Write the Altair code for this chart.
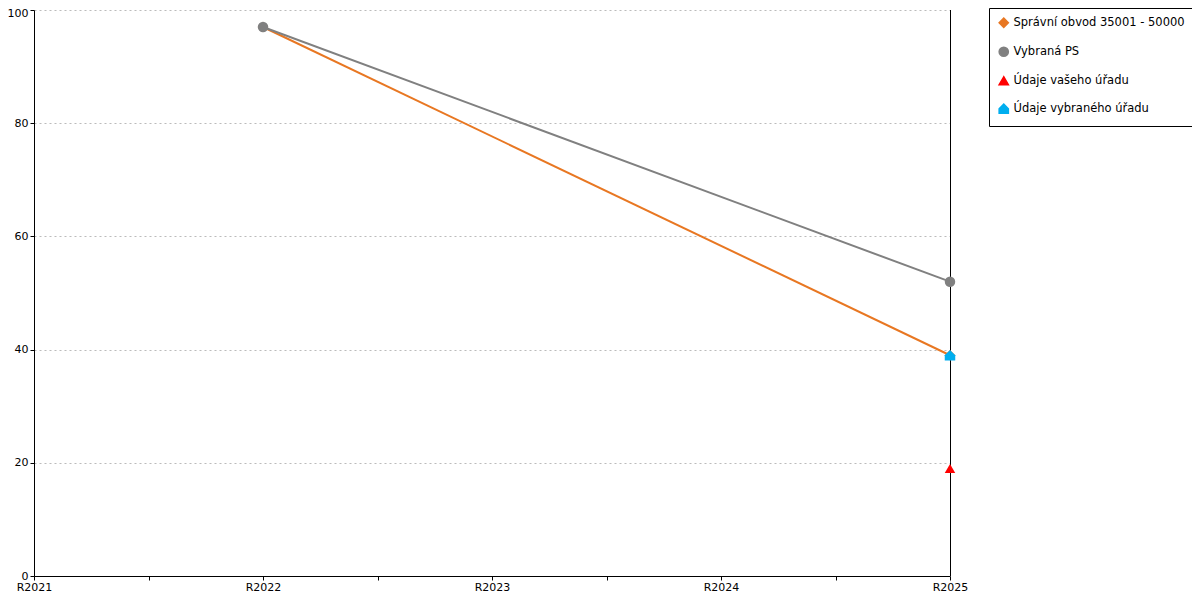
import altair as alt
import pandas as pd

categories = ["R2021", "R2022", "R2023", "R2024", "R2025"]
series_names = ["Správní obvod 35001 - 50000", "Vybraná PS", "Údaje vašeho úřadu", "Údaje vybraného úřadu"]
series_colors = ["#e87722", "#808080", "#ff0000", "#00aeef"]

obvod_x = ["R2022", "R2025"]
obvod_y = [97, 39]
ps_x = ["R2022", "R2025"]
ps_y = [97, 52]
vas_x = ["R2025"]
vas_y = [19]
vyb_x = ["R2025"]
vyb_y = [39]

rows = []
for name, xs, ys in [
    (series_names[0], obvod_x, obvod_y),
    (series_names[1], ps_x, ps_y),
    (series_names[2], vas_x, vas_y),
    (series_names[3], vyb_x, vyb_y),
]:
    for cx, vy in zip(xs, ys):
        rows.append({"series": name, "xi": categories.index(cx), "value": vy,
                     "order": series_names.index(name)})
df = pd.DataFrame(rows)

house = "M-1,1L-1,0L0,-1L1,0L1,1Z"
shapes = ["diamond", "circle", "triangle-up", house]

lab_arr = "[" + ",".join("'" + c + "'" for c in categories) + "]"
label_expr = f"datum.value % 1 == 0 ? {lab_arr}[datum.value] : ''"
tick_vals = [i * 0.5 for i in range(2 * (len(categories) - 1) + 1)]

H = 566

x_enc = alt.X("xi:Q", scale=alt.Scale(domain=[0, len(categories) - 1], nice=False, zero=False),
              axis=alt.Axis(values=tick_vals, labelExpr=label_expr, title=None, grid=False,
                            labelFlush=False, labelOverlap=False, labelPadding=1))
y_enc = alt.Y("value:Q", scale=alt.Scale(domain=[0, 100], nice=False),
              axis=alt.Axis(values=[0, 20, 40, 60, 80, 100], title=None, grid=True,
                            gridDash=[2, 3], gridColor="#bbbbbb",
                            labelOffset={"condition": {"test": "datum.value == 100", "value": 3},
                                         "value": 0}))

legend = alt.Legend(title=None, orient="none", legendX=955, legendY=-2,
                    strokeColor="black", fillColor="white", padding=9,
                    rowPadding=13, labelFontSize=11.5, labelFont="DejaVu Sans",
                    labelColor="black", symbolSize=85, labelLimit=300,
                    symbolOpacity=1, labelOffset=4)
color_scale = alt.Scale(domain=series_names, range=series_colors)
shape_scale = alt.Scale(domain=series_names, range=shapes)

lines = alt.Chart(df[df["series"].isin(series_names[:2])]).mark_line(strokeWidth=2).encode(
    x=x_enc, y=y_enc,
    color=alt.Color("series:N", scale=color_scale, legend=legend),
    detail="series:N",
)

right_rule = alt.Chart(pd.DataFrame({"xi": [len(categories) - 1]})).mark_rule(
    color="black", strokeWidth=1, xOffset=0.5).encode(
    x=alt.X("xi:Q"), y=alt.value(0), y2=alt.value(H))

points = alt.Chart(df).mark_point(filled=True, opacity=1, size=110).encode(
    x=x_enc, y=y_enc,
    color=alt.Color("series:N", scale=color_scale, legend=legend),
    shape=alt.Shape("series:N", scale=shape_scale, legend=legend),
    order=alt.Order("order:Q"),
)

chart = alt.layer(lines, right_rule, points).properties(
    width=916, height=H,
    autosize=alt.AutoSizeParams(type="none"),
    padding={"left": 26, "top": 2, "right": 242, "bottom": 584 - 2 - H},
).configure_view(stroke=None).configure_axis(
    domainColor="black", tickColor="black", labelColor="black",
    labelFont="DejaVu Sans", labelFontSize=11, tickSize=4,
)

chart.save("out.html", embed_options={"renderer": "svg", "actions": False})
